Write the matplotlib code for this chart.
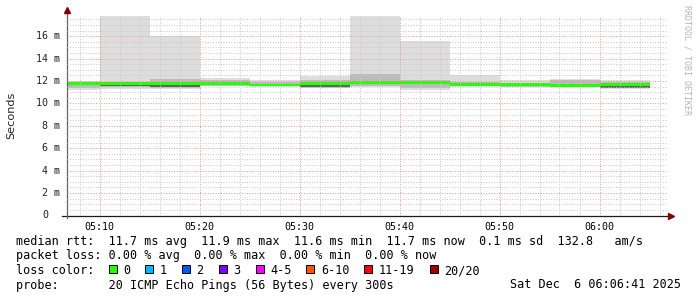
import matplotlib
matplotlib.use("Agg")
import matplotlib.pyplot as plt
import matplotlib.dates as mdates
from matplotlib.patches import Rectangle
import pandas as pd


# -------------------------
# Data (ms), one value per 5 minute step
# -------------------------
DAY = "2025-12-06 "
bin_start = ["05:05", "05:10", "05:15", "05:20", "05:25", "05:30",
             "05:35", "05:40", "05:45", "05:50", "05:55", "06:00"]
bin_end = "06:05"

median_ms = [11.76, 11.77, 11.80, 11.78, 11.66, 11.80, 11.90, 11.85, 11.72, 11.67, 11.62, 11.72]
smoke_min = [11.20, 11.33, 11.25, 11.55, 11.50, 11.36, 11.50, 11.20, 11.50, 11.45, 11.45, 11.32]
smoke_max = [12.02, 17.90, 16.00, 12.27, 12.08, 12.43, 17.90, 15.60, 12.50, 12.05, 12.20, 12.10]
mid_lo = [11.35, 11.45, 11.40, 11.58, 11.55, 11.42, 11.58, 11.40, 11.55, 11.50, 11.50, 11.36]
mid_hi = [11.92, 11.88, 12.15, 12.10, 11.95, 12.10, 12.60, 12.05, 11.90, 11.85, 12.05, 11.95]
core_lo = [11.70, 11.55, 11.50, 11.72, 11.62, 11.48, 11.80, 11.70, 11.62, 11.60, 11.55, 11.40]
core_hi = [11.80, 11.80, 11.85, 11.82, 11.72, 11.84, 11.95, 11.90, 11.78, 11.72, 11.68, 11.76]

y_ticks = [0, 2, 4, 6, 8, 10, 12, 14, 16]

loss_labels = ["0", "1", "2", "3", "4-5", "6-10", "11-19", "20/20"]
loss_colors = ["#26ff00", "#00b8ff", "#0059ff", "#7e00ff", "#ff00ff", "#ff5500", "#ff0000", "#a10000"]

line_rtt = "median rtt:  11.7 ms avg  11.9 ms max  11.6 ms min  11.7 ms now  0.1 ms sd  132.8   am/s"
line_loss = "packet loss: 0.00 % avg  0.00 % max  0.00 % min  0.00 % now"
line_color = "loss color:"
line_probe = "probe:       20 ICMP Echo Pings (56 Bytes) every 300s"
stamp = "Sat Dec  6 06:06:41 2025"

W, H = 697, 297
MONO = "DejaVu Sans Mono"
CW = 7.1  # legend char width in px


def fx(x):
    return x / W


def fy(y):
    return 1 - y / H


def steps(values):
    return list(values) + [values[-1]]


# -------------------------
# Plot
# -------------------------
def main():
    fig = plt.figure(figsize=(W / 100, H / 100), dpi=100)
    fig.patch.set_facecolor("white")
    ax = fig.add_axes([fx(67), fy(215.5), 600 / W, 200 / H])
    for s in ax.spines.values():
        s.set_visible(False)

    t = pd.to_datetime([DAY + b for b in bin_start + [bin_end]])

    ax.fill_between(t, steps(smoke_min), steps(smoke_max), step="post",
                    color="#dddddd", linewidth=0)
    ax.fill_between(t, steps(mid_lo), steps(mid_hi), step="post",
                    color="#bbbbbb", linewidth=0)
    ax.fill_between(t, steps(core_lo), steps(core_hi), step="post",
                    color="#626262", linewidth=0)
    sw = 0.12
    ax.fill_between(t, [m - sw for m in steps(median_ms)], [m + sw for m in steps(median_ms)],
                    step="post", color=loss_colors[0], linewidth=0)

    ax.set_xlim(pd.Timestamp(DAY + "05:06:45"), pd.Timestamp(DAY + "06:06:45"))
    ax.set_ylim(0, 17.85)

    ax.xaxis.set_major_locator(mdates.MinuteLocator(byminute=range(0, 60, 10)))
    ax.xaxis.set_minor_locator(mdates.MinuteLocator(byminute=range(0, 60, 2)))
    ax.xaxis.set_major_formatter(mdates.DateFormatter("%H:%M"))
    ax.set_yticks(y_ticks)
    ax.set_yticks([v / 2 for v in range(0, 36)], minor=True)

    ax.set_axisbelow(False)
    ax.grid(which="minor", color="#c8c8c8", linestyle=(0, (1, 1.6)), linewidth=0.72)
    ax.grid(which="major", color="#e39a9a", linestyle=(0, (1, 1.6)), linewidth=0.72)
    ax.tick_params(which="both", length=0)
    ax.tick_params(axis="x", pad=5, labelsize=7.2)
    ax.tick_params(axis="y", labelleft=False)
    for lab in ax.get_xticklabels():
        lab.set_family(MONO)

    # y labels rrdtool style ("0" keeps room for the unit)
    for v in y_ticks:
        label = f"{v} m" if v else "0"
        off = 7 if v else 7 + 2 * 6
        ax.text(-off / 600, v, label, transform=ax.get_yaxis_transform(),
                ha="right", va="center", family=MONO, size=7.2, color="#222222")

    # axes with arrows
    ax.plot([-5 / 600, 1.003], [0, 0], color="#1a1a1a", lw=0.9,
            transform=ax.transAxes, clip_on=False)
    ax.plot([0, 0], [-2.5 / 200, 1.0175], color="#606060", lw=0.9,
            transform=ax.transAxes, clip_on=False)
    ax.plot([1.0067], [0], marker=">", ms=4, color="#7f0000",
            transform=ax.transAxes, clip_on=False)
    ax.plot([0], [1.0275], marker="^", ms=4, color="#7f0000",
            transform=ax.transAxes, clip_on=False)

    fig.text(fx(11), fy(115.5), "Seconds", rotation=90, ha="center", va="center",
             family="DejaVu Sans", size=8.1, color="#222222")
    fig.text(fx(687), fy(5), "RRDTOOL / TOBI OETIKER", rotation=270, ha="center", va="top",
             family=MONO, size=6, color="#b4b4b4")

    # legend block
    fs = 8.5
    fig.text(fx(16), fy(245.5), line_rtt, family=MONO, size=fs, va="baseline")
    fig.text(fx(16), fy(259.5), line_loss, family=MONO, size=fs, va="baseline")
    fig.text(fx(16), fy(274), line_color, family=MONO, size=fs, va="baseline")
    fig.text(fx(16), fy(288.5), line_probe, family=MONO, size=fs, va="baseline")
    fig.text(fx(681), fy(288.5), stamp, family=MONO, size=fs, va="baseline", ha="right")

    cx = 112.7
    for lab, col in zip(loss_labels, loss_colors):
        fig.patches.append(Rectangle((fx(cx - 4), fy(273)), 8 / W, 8 / H,
                                     transform=fig.transFigure, facecolor=col,
                                     edgecolor="black", linewidth=0.7))
        fig.text(fx(cx + 10.5), fy(274), lab, family=MONO, size=fs, va="baseline")
        cx += 29.6 + CW * len(lab)

    fig.savefig("out.png", dpi=100, facecolor="white")


if __name__ == "__main__":
    main()
